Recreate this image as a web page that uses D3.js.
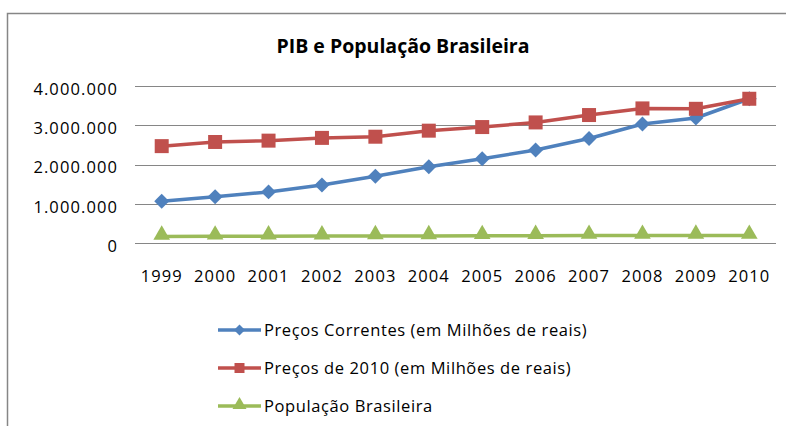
<!DOCTYPE html>
<html>
<head>
<meta charset="utf-8">
<script src="https://cdn.jsdelivr.net/npm/d3@7"></script>
<style>
  body { margin: 0; background: #fff; }
  svg { display: block; font-family: "Open Sans", sans-serif; }
</style>
</head>
<body>
<svg></svg>
<script>
// data
var years = ["1999", "2000", "2001", "2002", "2003", "2004", "2005", "2006", "2007", "2008", "2009", "2010"];
var precosCorrentes = [1064999, 1179482, 1302136, 1477822, 1699948, 1941498, 2147239, 2369484, 2661345, 3031864, 3185125, 3674964];
var precos2010 = [2468000, 2574000, 2608000, 2678000, 2708000, 2862000, 2954000, 3072000, 3260000, 3429000, 3419000, 3674964];
var populacao = [168754, 171280, 173808, 176304, 178741, 181106, 184184, 186771, 189335, 189613, 191481, 190755];
var yTicks = [0, 1000000, 2000000, 3000000, 4000000];
var seriesNames = ["Preços Correntes (em Milhões de reais)", "Preços de 2010 (em Milhões de reais)", "População Brasileira"];

var svgWidth = 786, svgHeight = 426;
var svg = d3.select('svg')
  .attr('width', svgWidth)
  .attr('height', svgHeight);

// chart frame
svg.append("rect")
  .attr("x", 7.5).attr("y", 13.5)
  .attr("width", 800).attr("height", 430)
  .attr("fill", "#fff")
  .attr("stroke", "#868686")
  .attr("stroke-width", 1.5);

// title
svg.append("text")
  .attr("x", 403).attr("y", 53)
  .attr("text-anchor", "middle")
  .attr("font-weight", "bold")
  .attr("font-size", "19.5px")
  .attr("fill", "#000")
  .text("PIB e População Brasileira");

var plot = { left: 135, right: 776, top: 86, bottom: 243 };

var x = d3.scaleBand().domain(years).range([plot.left, plot.right]);
var y = d3.scaleLinear().domain([0, 4000000]).range([plot.bottom, plot.top]);

// gridlines
svg.append("g")
  .selectAll("line")
  .data(yTicks)
  .enter()
  .append("line")
  .attr("x1", plot.left).attr("x2", plot.right)
  .attr("y1", function (d) { return Math.round(y(d)) + 0.5; })
  .attr("y2", function (d) { return Math.round(y(d)) + 0.5; })
  .attr("stroke", "#868686")
  .attr("stroke-width", 1);

// y axis labels
var fmt = function (d) { return d3.format(",")(d).replace(/,/g, "."); };
var yAxis = d3.axisLeft(y).tickValues(yTicks).tickFormat(fmt).tickSize(0).tickPadding(17);
var yg = svg.append("g").attr("transform", "translate(" + plot.left + ",0)").call(yAxis);
yg.select(".domain").remove();
yg.selectAll("text")
  .attr("font-family", "Open Sans, sans-serif")
  .attr("font-size", "16.5px")
  .attr("letter-spacing", "1.1px")
  .attr("fill", "#000")
  .attr("dy", "0.5em");

// x axis labels
var xAxis = d3.axisBottom(x).tickSize(0).tickPadding(27);
var xg = svg.append("g").attr("transform", "translate(0," + plot.bottom + ")").call(xAxis);
xg.select(".domain").remove();
xg.selectAll("text")
  .attr("font-family", "Open Sans, sans-serif")
  .attr("font-size", "16.5px")
  .attr("letter-spacing", "1.1px")
  .attr("fill", "#000");

var colors = ["#4F81BD", "#C0504D", "#9BBB59"];
// diamond = square turned 45 degrees
var symbols = [d3.symbolSquare, d3.symbolSquare, d3.symbolTriangle];
var sizes = [112, 196, 120];
var rot = [45, 0, 0];
var allSeries = [precosCorrentes, precos2010, populacao];

var line = d3.line()
  .x(function (d, i) { return x(years[i]) + x.bandwidth() / 2; })
  .y(function (d) { return y(d); });

allSeries.forEach(function (vals, k) {
  svg.append("path")
    .datum(vals)
    .attr("d", line)
    .attr("fill", "none")
    .attr("stroke", colors[k])
    .attr("stroke-width", 3.5)
    .attr("stroke-linejoin", "round");
  svg.append("g")
    .selectAll("path")
    .data(vals)
    .enter()
    .append("path")
    .attr("d", d3.symbol().type(symbols[k]).size(sizes[k]))
    .attr("transform", function (d, i) {
      var dy = k === 2 ? -1.5 : 0;
      return "translate(" + (x(years[i]) + x.bandwidth() / 2) + "," + (y(d) + dy) + ") rotate(" + rot[k] + ")";
    })
    .attr("fill", colors[k]);
});

// legend
var legend = svg.append("g")
  .selectAll("g")
  .data(seriesNames)
  .enter()
  .append("g")
  .attr("transform", function (d, i) { return "translate(218," + (330 + i * 38) + ")"; });

legend.append("line")
  .attr("x1", 0).attr("x2", 43)
  .attr("stroke", function (d, i) { return colors[i]; })
  .attr("stroke-width", 3.5);

legend.append("path")
  .attr("d", function (d, i) { return d3.symbol().type(symbols[i]).size([60, 100, 85][i])(); })
  .attr("transform", function (d, i) { return "translate(21.5," + (i === 2 ? -1 : 0) + ") rotate(" + rot[i] + ")"; })
  .attr("fill", function (d, i) { return colors[i]; });

legend.append("text")
  .attr("x", 46)
  .attr("dy", "0.36em")
  .attr("font-size", "16.5px")
  .attr("letter-spacing", "0.6px")
  .attr("fill", "#000")
  .text(function (d) { return d; });
</script>
</body>
</html>
